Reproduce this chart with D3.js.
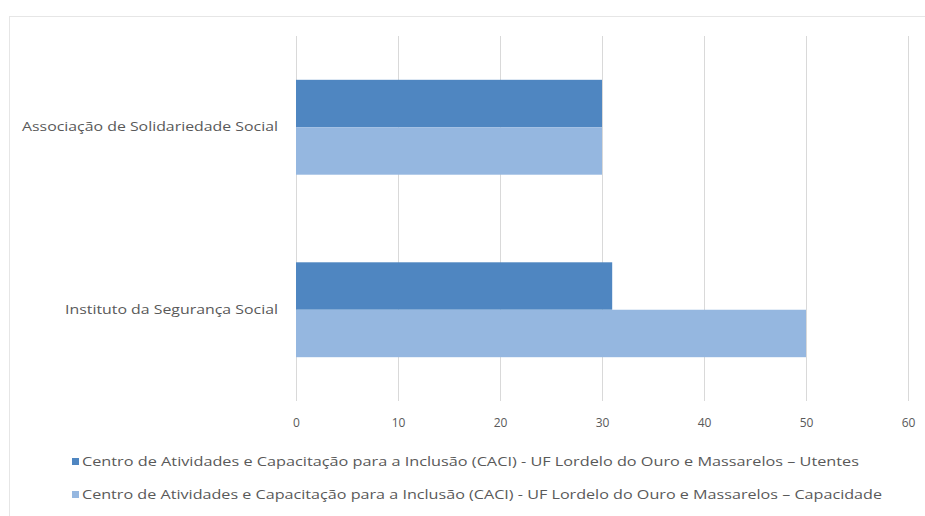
<!DOCTYPE html>
<html><head><meta charset="utf-8">
<script src="https://cdn.jsdelivr.net/npm/d3@7"></script>
<style>body{margin:0;background:#fff}svg{display:block}text{font-family:"Open Sans","Liberation Sans",sans-serif;fill:#595959}</style>
</head><body>
<svg id="c" width="925" height="516"></svg>
<script>
const categories = ["Associação de Solidariedade Social", "Instituto da Segurança Social"];
const seriesNames = [
  "Centro de Atividades e Capacitação para a Inclusão (CACI) - UF Lordelo do Ouro e Massarelos  –  Utentes",
  "Centro de Atividades e Capacitação para a Inclusão (CACI) - UF Lordelo do Ouro e Massarelos  –  Capacidade"
];
const utentes = [30, 31];
const capacidade = [30, 50];
const xTicks = [0, 10, 20, 30, 40, 50, 60];
const colors = ["#4f86c1", "#95b7e0"];

const svg = d3.select("#c");
// faint chart border
svg.append("rect").attr("x", 9.5).attr("y", 16.5).attr("width", 930).attr("height", 520)
  .attr("fill", "none").attr("stroke", "#e6e6e6");

const x = d3.scaleLinear().domain([0, 60]).range([296, 908]);
const y = d3.scaleBand().domain(categories).range([36, 401]).paddingInner(0.48).paddingOuter(0.24);
const ys = d3.scaleBand().domain([0, 1]).range([0, y.bandwidth()]);

// gridlines
svg.append("g").selectAll("line").data(xTicks).join("line")
  .attr("x1", d => Math.round(x(d)) + 0.5).attr("x2", d => Math.round(x(d)) + 0.5)
  .attr("y1", 36).attr("y2", 401).attr("stroke", "#d9d9d9").attr("stroke-width", 1);

const data = [utentes, capacidade];
data.forEach((vals, si) => {
  svg.append("g").selectAll("rect").data(categories).join("rect")
    .attr("x", x(0)).attr("y", d => y(d) + ys(si))
    .attr("width", (d, i) => x(vals[i]) - x(0)).attr("height", ys.bandwidth())
    .attr("fill", colors[si]);
});

// x axis labels
const xa = d3.axisBottom(x).tickValues(xTicks).tickSize(0).tickPadding(0);
const gx = svg.append("g").attr("transform", "translate(0,418)").call(xa);
gx.select(".domain").remove();
gx.selectAll("text").attr("font-size", 12).style("fill", "#595959").attr("font-family", "Open Sans, sans-serif");

// category labels
const ya = d3.axisLeft(y).tickSize(0).tickPadding(0);
const gy = svg.append("g").attr("transform", "translate(278,0)").call(ya);
gy.select(".domain").remove();
const catW = [256, 213];
gy.selectAll("text").attr("font-size", 12.5).style("fill", "#595959").attr("font-family", "Open Sans, sans-serif")
  .attr("textLength", (d, i) => catW[i]).attr("lengthAdjust", "spacingAndGlyphs");

// legend
const legW = [777, 800];
const leg = svg.append("g");
seriesNames.forEach((n, i) => {
  const ly = 462 + i * 33;
  leg.append("rect").attr("x", 72).attr("y", ly - 4).attr("width", 7).attr("height", 7).attr("fill", colors[i]);
  leg.append("text").attr("x", 82).attr("y", ly).attr("dy", "0.35em").attr("font-size", 12)
    .attr("textLength", legW[i]).attr("lengthAdjust", "spacingAndGlyphs").text(n);
});
</script>
</body></html>
